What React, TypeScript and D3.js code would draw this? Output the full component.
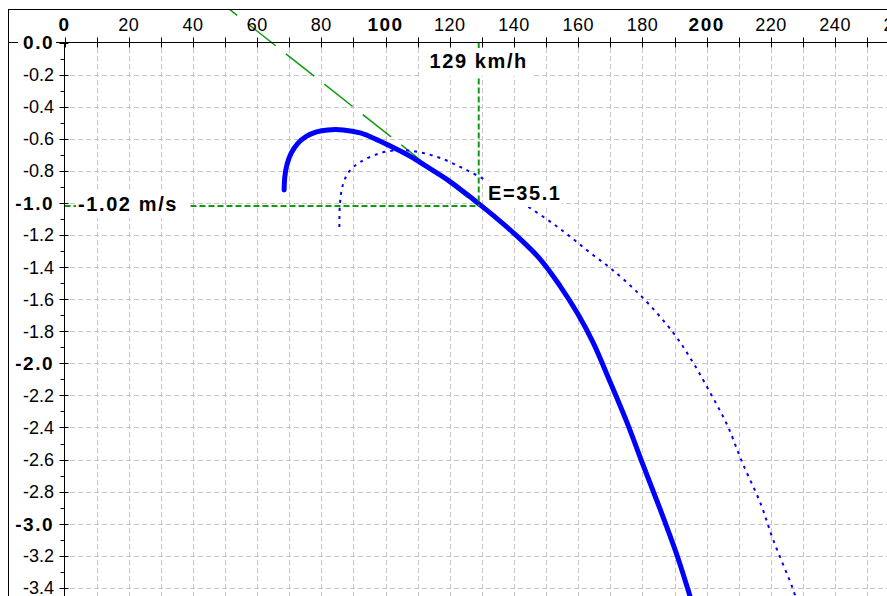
import { useEffect, useRef } from 'react'
import * as d3 from 'd3'

// glider polar, clean (thick line)
const polarSpeed = [68.4, 68.6, 69.3, 70.6, 72.6, 75.3, 78.5, 82.0, 86.8, 92.1, 97.4, 102.4, 107.7, 113.0, 119.2, 125.4, 129.0, 133.5, 139.7, 148.1, 154.4, 159.8, 164.6, 170.0, 175.2, 180.2, 185.5, 190.8, 194.0, 195.8]
const polarSink = [-0.92, -0.84, -0.76, -0.69, -0.63, -0.585, -0.557, -0.545, -0.545, -0.564, -0.607, -0.655, -0.71, -0.776, -0.855, -0.948, -1.005, -1.078, -1.185, -1.35, -1.52, -1.69, -1.87, -2.12, -2.37, -2.635, -2.91, -3.2, -3.4, -3.52]

// glider polar, ballasted (dotted line)
const ballastSpeed = [85.6, 85.8, 86.8, 88.8, 92.1, 98.3, 104.6, 110.8, 117.0, 123.2, 129.5, 136.6, 144.1, 152.2, 158.4, 163.7, 169.9, 179.3, 189.6, 195.8, 201.1, 206.4, 211.1, 216.7, 220.7, 226.9, 228.6]
const ballastSink = [-1.15, -1.0, -0.88, -0.8, -0.745, -0.69, -0.67, -0.685, -0.72, -0.775, -0.84, -0.925, -1.02, -1.13, -1.225, -1.311, -1.405, -1.575, -1.81, -1.997, -2.184, -2.385, -2.62, -2.87, -3.1, -3.41, -3.52]

// tangent line to the polar
const tangentSpeed = [45, 129]
const tangentSink = [0.308, -1.02]

const bestSpeed = 129
const bestSink = -1.02
const glideRatio = 35.1

const xTicks = d3.range(0, 261, 10)
const xLabelTicks = d3.range(0, 261, 20)
const yMajor = d3.range(0, 18).map(i => -i * 0.2)
const yMinor = d3.range(0, 36).map(i => -i * 0.1)

const W = 887
const H = 596
const FONT = '"Liberation Sans", Arial, sans-serif'

export default function App() {
  const svgRef = useRef<SVGSVGElement>(null)

  useEffect(() => {
    if (!svgRef.current) return
    const svg = d3.select(svgRef.current)
    svg.selectAll('*').remove()

    const x = d3.scaleLinear().domain([0, 250]).range([64.5, 64.5 + 250 * 3.211])
    const y = d3.scaleLinear().domain([0, -3.4]).range([42.5, 42.5 + 3.4 * 160.4])

    const frameX = 8.5
    const frameY = 9.5

    svg.append('defs').append('clipPath').attr('id', 'frame-clip')
      .append('rect').attr('x', 9).attr('y', 10).attr('width', W - 9).attr('height', H - 10)

    const g = svg.append('g').attr('clip-path', 'url(#frame-clip)')

    // grid
    const grid = g.append('g')
      .style('stroke', '#c4c4c4')
      .style('stroke-width', 1)
      .style('stroke-dasharray', '5,3')
      .style('stroke-dashoffset', 2.5)
    grid.selectAll('.vgrid')
      .data(xTicks.filter(d => d > 0))
      .enter().append('line')
      .attr('x1', d => Math.round(x(d)) + 0.5)
      .attr('x2', d => Math.round(x(d)) + 0.5)
      .attr('y1', y(0))
      .attr('y2', H)
    grid.selectAll('.hgrid')
      .data(yMajor.filter(d => d < 0))
      .enter().append('line')
      .attr('y1', d => Math.round(y(d)) + 0.5)
      .attr('y2', d => Math.round(y(d)) + 0.5)
      .attr('x1', x(0))
      .attr('x2', W)

    const line = d3.line<[number, number]>()
      .x(d => x(d[0]))
      .y(d => y(d[1]))
      .curve(d3.curveCatmullRom)

    // tangent
    g.append('path')
      .datum(tangentSpeed.map((s, i) => [s, tangentSink[i]] as [number, number]))
      .attr('d', d3.line<[number, number]>().x(d => x(d[0])).y(d => y(d[1])))
      .style('fill', 'none')
      .style('stroke', '#109a10')
      .style('stroke-width', 1.5)
      .style('stroke-dasharray', '36,13')

    // ballast polar
    g.append('path')
      .datum(ballastSpeed.map((s, i) => [s, ballastSink[i]] as [number, number]))
      .attr('d', line)
      .style('fill', 'none')
      .style('stroke', '#0000ff')
      .style('stroke-width', 2)
      .style('stroke-dasharray', '3,5')

    // clean polar
    g.append('path')
      .datum(polarSpeed.map((s, i) => [s, polarSink[i]] as [number, number]))
      .attr('d', line)
      .style('fill', 'none')
      .style('stroke', '#0000ff')
      .style('stroke-width', 5)
      .style('stroke-linecap', 'round')

    // best glide guides
    const guides = g.append('g')
      .style('stroke', '#109a10')
      .style('stroke-width', 2)
      .style('stroke-dasharray', '6,3')
    guides.append('line')
      .attr('x1', x(bestSpeed)).attr('x2', x(bestSpeed))
      .attr('y1', y(0)).attr('y2', y(bestSink))
    guides.append('line')
      .attr('x1', x(0)).attr('x2', x(bestSpeed))
      .attr('y1', y(bestSink)).attr('y2', y(bestSink))

    // axes
    const axes = g.append('g').style('stroke', '#000').style('stroke-width', 1)
    axes.append('line')
      .attr('x1', frameX).attr('x2', W)
      .attr('y1', y(0)).attr('y2', y(0))
    axes.append('line')
      .attr('x1', x(0)).attr('x2', x(0))
      .attr('y1', y(0)).attr('y2', H)
    axes.selectAll('.xtick')
      .data(xTicks)
      .enter().append('line')
      .attr('x1', d => Math.round(x(d)) + 0.5)
      .attr('x2', d => Math.round(x(d)) + 0.5)
      .attr('y1', y(0) - 5)
      .attr('y2', y(0) + 5)
    axes.selectAll('.ytick')
      .data(yMajor)
      .enter().append('line')
      .attr('y1', d => Math.round(y(d)) + 0.5)
      .attr('y2', d => Math.round(y(d)) + 0.5)
      .attr('x1', x(0) - 5)
      .attr('x2', x(0) + 4)
    axes.selectAll('.yminor')
      .data(yMinor.filter((d, i) => i % 2 === 1))
      .enter().append('line')
      .attr('y1', d => Math.round(y(d)) + 0.5)
      .attr('y2', d => Math.round(y(d)) + 0.5)
      .attr('x1', x(0) - 4)
      .attr('x2', x(0))

    // x labels
    g.selectAll('.xlabel')
      .data(xLabelTicks)
      .enter().append('text')
      .attr('x', d => x(d))
      .attr('y', 31)
      .attr('text-anchor', 'middle')
      .style('font-family', FONT)
      .style('font-size', d => d % 100 === 0 ? '19px' : '18px')
      .style('font-weight', d => d % 100 === 0 ? 'bold' : 'normal')
      .style('letter-spacing', d => d % 100 === 0 ? '1.5px' : '0.5px')
      .style('fill', '#000')
      .text(d => String(d))

    // y labels
    const ylab = g.selectAll('.ylabel')
      .data(yMajor)
      .enter().append('g')
    ylab.filter(d => d === 0).append('rect')
      .attr('x', 18).attr('y', y(0) - 8).attr('width', 38).attr('height', 16)
      .style('fill', '#fff')
    ylab.append('text')
      .attr('x', 54)
      .attr('y', d => y(d))
      .attr('dy', '0.36em')
      .attr('text-anchor', 'end')
      .style('font-family', FONT)
      .style('font-size', d => Math.abs(d % 1) < 1e-6 ? '19px' : '18px')
      .style('font-weight', d => Math.abs(d % 1) < 1e-6 ? 'bold' : 'normal')
      .style('letter-spacing', d => Math.abs(d % 1) < 1e-6 ? '1.5px' : '0px')
      .style('fill', '#000')
      .text(d => (Math.abs(d) < 1e-6 ? 0 : d).toFixed(1))

    // annotation labels
    const notes = [
      { text: `${bestSpeed} km/h`, x: x(bestSpeed), y: 68, anchor: 'middle', bx: x(bestSpeed) - 57, bw: 112, by: 48, bh: 28 },
      { text: `${bestSink.toFixed(2)} m/s`, x: 78, y: 211, anchor: 'start', bx: 76, bw: 112, by: 190, bh: 28 },
      { text: `E=${glideRatio}`, x: 488, y: 200, anchor: 'start', bx: 486, bw: 76, by: 181, bh: 26 },
    ]
    const ng = g.selectAll('.note').data(notes).enter().append('g')
    ng.append('rect')
      .attr('x', d => d.bx).attr('y', d => d.by)
      .attr('width', d => d.bw).attr('height', d => d.bh)
      .style('fill', '#fff')
    ng.append('text')
      .attr('x', d => d.x)
      .attr('y', d => d.y)
      .attr('text-anchor', d => d.anchor)
      .style('font-family', FONT)
      .style('font-size', '20px')
      .style('font-weight', 'bold')
      .style('letter-spacing', '1.6px')
      .style('fill', '#000')
      .text(d => d.text)

    // frame
    svg.append('line')
      .attr('x1', frameX).attr('x2', frameX).attr('y1', 9).attr('y2', H)
      .style('stroke', '#000')
    svg.append('line')
      .attr('x1', 8).attr('x2', W).attr('y1', frameY).attr('y2', frameY)
      .style('stroke', '#000')
  }, [])

  return (
    <div style={{ position: 'fixed', left: 0, top: 0, width: W, height: H, background: '#fff' }}>
      <svg ref={svgRef} width={W} height={H} style={{ display: 'block' }}></svg>
    </div>
  )
}
